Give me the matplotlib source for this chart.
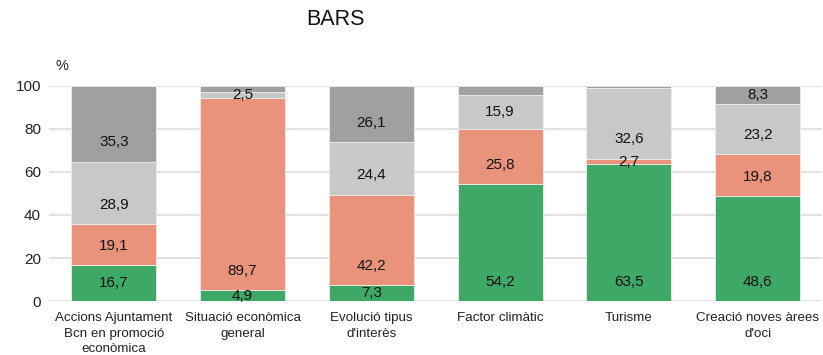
import matplotlib
matplotlib.use("Agg")
import matplotlib.pyplot as plt
from matplotlib import font_manager as fm

categories = ["Accions Ajuntament\nBcn en promoció\neconòmica",
              "Situació econòmica\ngeneral",
              "Evolució tipus\nd'interès",
              "Factor climàtic",
              "Turisme",
              "Creació noves àrees\nd'oci"]
s_green = [16.7, 4.9, 7.3, 54.2, 63.5, 48.6]
s_salmon = [19.1, 89.7, 42.2, 25.8, 2.7, 19.8]
s_light = [28.9, 2.5, 24.4, 15.9, 32.6, 23.2]
s_dark = [35.3, 2.9, 26.1, 4.1, 1.2, 8.3]
show_dark = [True, False, True, False, False, True]
yticks = [0, 20, 40, 60, 80, 100]

names = {f.name for f in fm.fontManager.ttflist}
base = "Liberation Sans" if "Liberation Sans" in names else "DejaVu Sans"
plt.rcParams['font.family'] = [base, 'DejaVu Sans']

fig = plt.figure(figsize=(8.23, 3.55), dpi=100)
ax = fig.add_axes([0.06, 0.152, 0.939, 0.606])

colors = ["#3EA867", "#E8937A", "#C8C8C8", "#A0A0A0"]
series = [s_green, s_salmon, s_light, s_dark]
x = list(range(len(categories)))
bottoms = [0.0] * len(categories)
for si, (vals, col) in enumerate(zip(series, colors)):
    ax.bar(x, vals, width=0.66, bottom=bottoms, color=col, edgecolor="#EDEDED",
           linewidth=0.6, zorder=3)
    for i, v in enumerate(vals):
        if si == 3 and not show_dark[i]:
            continue
        ypos = bottoms[i] + min(v / 2, 9.0)
        ax.text(i, ypos, f"{v:.1f}".replace(".", ","),
                ha="center", va="center", fontsize=11, color="#111111", zorder=4)
    bottoms = [b + v for b, v in zip(bottoms, vals)]

ax.set_xlim(-0.5, len(categories) - 0.5)
ax.set_ylim(0, 100)
ax.set_yticks(yticks)
ax.set_yticklabels([str(t) for t in yticks], fontsize=11, color="#222222")
ax.set_xticks(x)
ax.set_xticklabels(categories, fontsize=9.6, color="#222222", linespacing=1.4)
ax.tick_params(axis="both", length=0, pad=6)
ax.tick_params(axis="x", pad=8)
ax.yaxis.grid(True, color="#DDDDDD", linewidth=1.2, zorder=0)
for sp in ax.spines.values():
    sp.set_visible(False)

fig.text(0.0755, 0.814, "%", fontsize=10.5, ha="center", va="center", color="#222222")
fig.text(0.408, 0.944, "BARS", fontsize=15.5, ha="center", va="center", color="#111111")

fig.savefig("out.png", dpi=100)
